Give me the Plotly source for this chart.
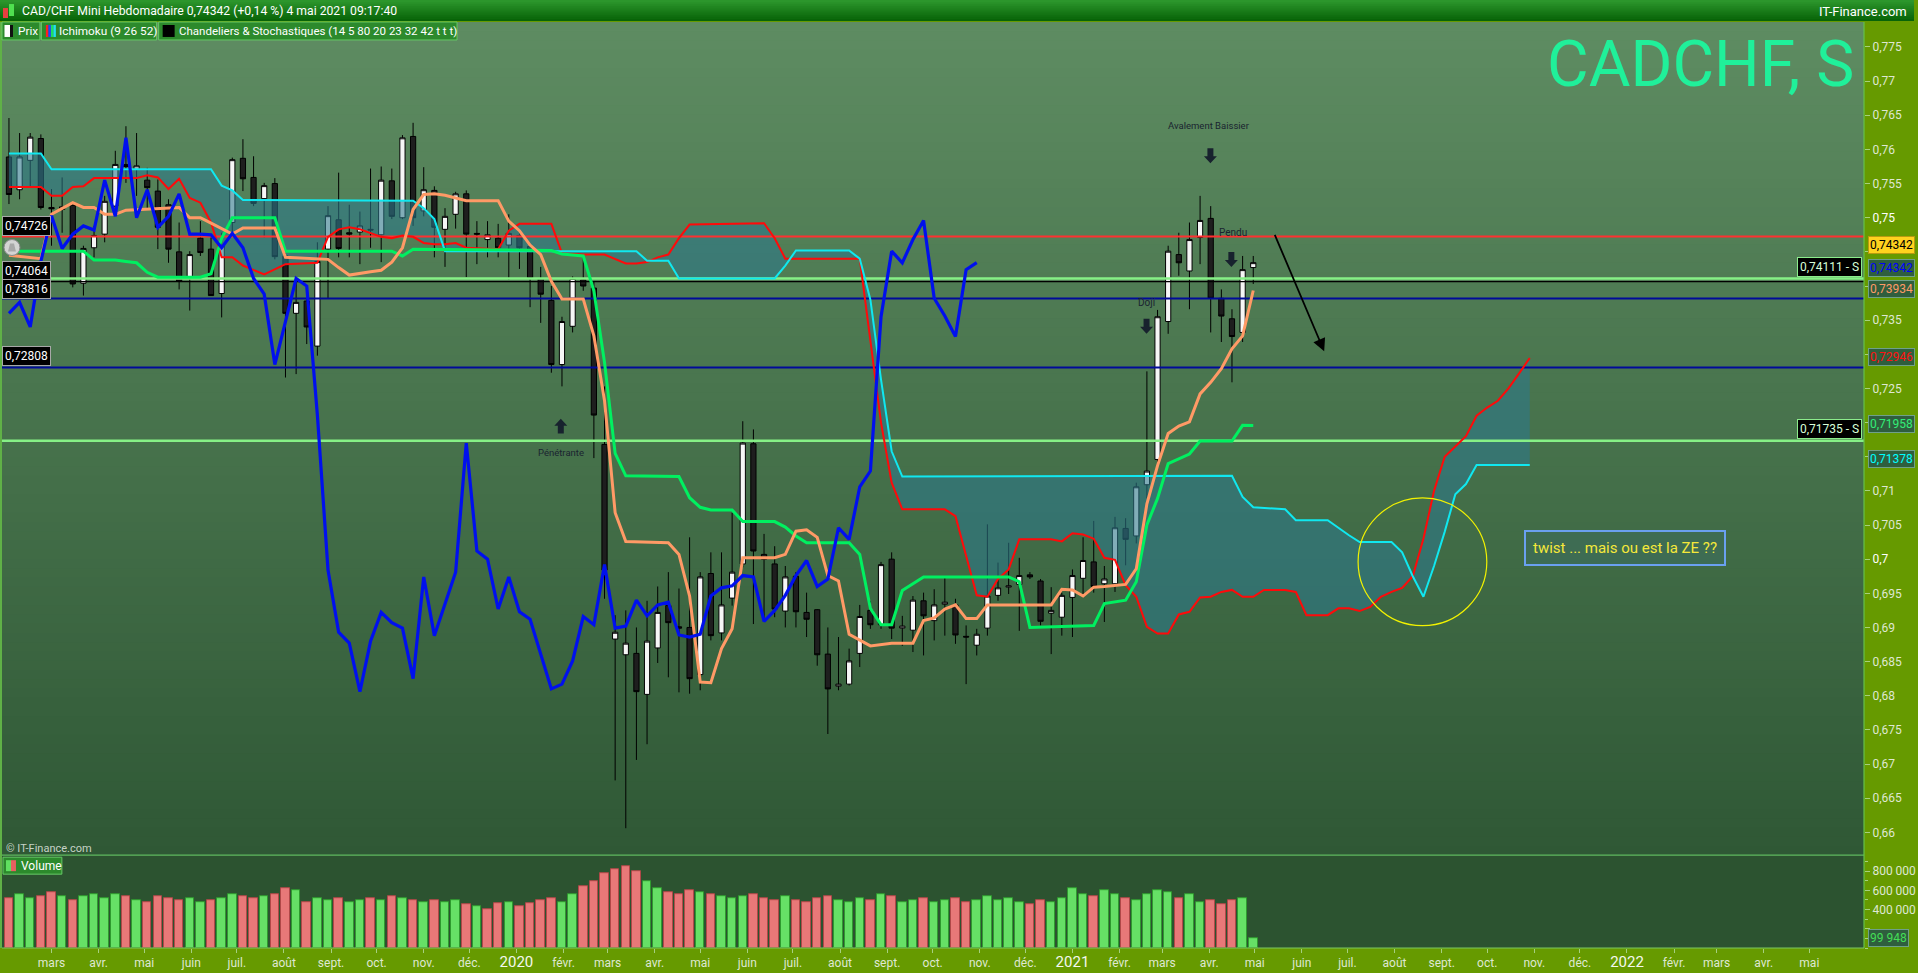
import plotly.graph_objects as go
import pandas as pd

# ------------------------------------------------------------------ DATA
start_date = "2019-02-01"   # first weekly candle

opens = [0.7589,0.7541,0.7584,0.7616,0.7515,0.7512,0.7518,0.7404,0.7456,0.7476,
         0.7517,0.7578,0.7571,0.7555,0.7539,0.7519,0.7450,0.7412,0.7470,0.7454,
         0.7389,0.7493,0.7587,0.7559,0.7528,0.7550,0.7444,0.7360,0.7378,0.7312,
         0.7454,0.7497,0.7478,0.7479,0.7483,0.7475,0.7554,0.7500,0.7619,0.7510,
         0.7540,0.7483,0.7505,0.7535,0.7477,0.7468,0.7470,0.7460,0.7474,0.7458,
         0.7411,0.7379,0.7285,0.7341,0.7409,0.7397,0.7168,0.6883,0.6860,0.6862,
         0.6802,0.6870,0.6932,0.6901,0.6900,0.6831,0.6979,0.6892,0.6943,0.6993,
         0.7169,0.7007,0.6993,0.6924,0.6975,0.6922,0.6926,0.6861,0.6814,0.6817,
         0.6862,0.6925,0.6904,0.7000,0.6899,0.6896,0.6939,0.6910,0.6934,0.6933,
         0.6887,0.6874,0.6899,0.6947,0.6959,0.6963,0.6977,0.6968,0.6921,0.6915,
         0.6944,0.6972,0.6996,0.6964,0.6964,0.7045,0.7034,0.7109,0.7146,0.7348,
         0.7446,0.7422,0.7471,0.7499,0.7382,0.7352,0.7332,0.7427]
highs = [0.7646,0.7624,0.7624,0.7622,0.7542,0.7559,0.7522,0.7459,0.7488,0.7532,
         0.7598,0.7634,0.7624,0.7573,0.7556,0.7527,0.7493,0.7451,0.7495,0.7476,
         0.7478,0.7588,0.7615,0.7590,0.7551,0.7558,0.7449,0.7410,0.7381,0.7464,
         0.7517,0.7566,0.7519,0.7509,0.7572,0.7575,0.7572,0.7621,0.7639,0.7574,
         0.7546,0.7514,0.7538,0.7540,0.7495,0.7495,0.7491,0.7505,0.7477,0.7460,
         0.7428,0.7400,0.7355,0.7414,0.7442,0.7407,0.7253,0.6918,0.6925,0.6900,
         0.6939,0.6960,0.6981,0.6957,0.7032,0.6981,0.7010,0.7010,0.7068,0.7202,
         0.7190,0.7037,0.7019,0.6990,0.6981,0.6951,0.6927,0.6900,0.6886,0.6869,
         0.6933,0.6939,0.6996,0.7010,0.6917,0.6946,0.6951,0.6956,0.6973,0.6942,
         0.6903,0.6898,0.7051,0.6995,0.7024,0.7002,0.6981,0.6971,0.6959,0.6951,
         0.6985,0.7032,0.7056,0.6990,0.7062,0.7060,0.7112,0.7275,0.7365,0.7459,
         0.7478,0.7493,0.7532,0.7517,0.7395,0.7366,0.7444,0.7444]
lows = [0.7520,0.7527,0.7546,0.7512,0.7459,0.7478,0.7398,0.7386,0.7442,0.7464,
        0.7512,0.7551,0.7532,0.7512,0.7454,0.7434,0.7395,0.7364,0.7444,0.7386,
        0.7354,0.7478,0.7539,0.7517,0.7471,0.7439,0.7266,0.7271,0.7315,0.7298,
        0.7381,0.7442,0.7442,0.7432,0.7456,0.7435,0.7498,0.7498,0.7488,0.7502,
        0.7442,0.7428,0.7484,0.7413,0.7432,0.7442,0.7442,0.7409,0.7425,0.7369,
        0.7346,0.7273,0.7253,0.7332,0.7393,0.7148,0.6942,0.6676,0.6606,0.6706,
        0.6729,0.6848,0.6827,0.6805,0.6803,0.6808,0.6881,0.6881,0.6932,0.6988,
        0.6905,0.6912,0.6915,0.6900,0.6900,0.6886,0.6844,0.6744,0.6808,0.6815,
        0.6842,0.6898,0.6898,0.6883,0.6873,0.6864,0.6859,0.6881,0.6888,0.6876,
        0.6817,0.6859,0.6888,0.6939,0.6949,0.6895,0.6971,0.6903,0.6861,0.6888,
        0.6886,0.6945,0.6951,0.6908,0.6952,0.6991,0.7023,0.7089,0.7137,0.7330,
        0.7415,0.7366,0.7432,0.7332,0.7318,0.7259,0.7318,0.7403]
closes = [0.7534,0.7589,0.7618,0.7515,0.7513,0.7516,0.7403,0.7455,0.7474,0.7524,
          0.7578,0.7575,0.7576,0.7544,0.7486,0.7454,0.7407,0.7446,0.7449,0.7386,
          0.7459,0.7585,0.7557,0.7521,0.7547,0.7443,0.7360,0.7376,0.7340,0.7436,
          0.7503,0.7455,0.7476,0.7488,0.7482,0.7555,0.7502,0.7617,0.7500,0.7541,
          0.7486,0.7502,0.7535,0.7476,0.7476,0.7475,0.7456,0.7477,0.7456,0.7411,
          0.7388,0.7285,0.7348,0.7411,0.7400,0.7211,0.6984,0.6893,0.6877,0.6806,
          0.6880,0.6922,0.6907,0.6899,0.6825,0.6974,0.6888,0.6933,0.6981,0.7170,
          0.7012,0.7000,0.6927,0.6974,0.6923,0.6912,0.6860,0.6810,0.6817,0.6851,
          0.6916,0.6904,0.6992,0.6899,0.6902,0.6940,0.6917,0.6933,0.6937,0.6889,
          0.6886,0.6890,0.6946,0.6958,0.6961,0.6976,0.6974,0.6909,0.6925,0.6947,
          0.6976,0.6998,0.6960,0.6971,0.7046,0.7029,0.7106,0.7129,0.7355,0.7451,
          0.7434,0.7468,0.7496,0.7382,0.7356,0.7326,0.7424,0.74342]
prev_close_before_start = 0.7560
volumes = [520000,560000,520000,540000,580000,540000,500000,540000,560000,520000,
           560000,540000,500000,480000,540000,520000,500000,520000,480000,500000,
           520000,560000,540000,520000,540000,560000,620000,600000,480000,520000,
           500000,520000,480000,500000,520000,500000,540000,520000,500000,480000,
           500000,480000,500000,460000,440000,400000,470000,480000,440000,470000,
           500000,520000,480000,560000,640000,700000,780000,820000,850000,800000,
           700000,620000,580000,560000,600000,580000,560000,540000,520000,540000,
           560000,520000,500000,540000,500000,480000,520000,540000,500000,480000,
           520000,500000,560000,540000,480000,500000,520000,480000,500000,520000,
           480000,500000,540000,500000,520000,480000,460000,500000,480000,520000,
           620000,560000,540000,600000,560000,520000,500000,560000,600000,580000,
           520000,560000,480000,500000,460000,500000,520000,99948]

# Ichimoku lines (week index from first candle, value)
tenkan_w = [0,3,4,6,7,8,9,10,11,16,17,18,19,21,22,25,26,28,30,31,32,34,35,36,37,38,39,40,41,43,46,47,48,49,50,51,52,54,55,56,57,58,62,63,64,65,66,67,68,69,72,73,74,75,76,77,78,79,81,83,85,86,87,88,89,90,91,92,98,99,100,101,102,103,105,106,107,108,109,110,111,112,113,114,115,116,117]
tenkan_v = [0.7445,0.7440,0.7505,0.7522,0.7515,0.7515,0.7505,0.7505,0.7511,0.7515,0.7500,0.7500,0.7492,0.7476,0.7485,0.7485,0.7442,0.7440,0.7439,0.7427,0.7416,0.7421,0.7423,0.7435,0.7456,0.7512,0.7534,0.7535,0.7533,0.7525,0.7525,0.7495,0.7481,0.7460,0.7446,0.7407,0.7381,0.7381,0.7327,0.7232,0.7068,0.7026,0.7024,0.7007,0.6946,0.6820,0.6819,0.6869,0.6898,0.7002,0.7002,0.7007,0.7041,0.7043,0.7032,0.6976,0.6968,0.6890,0.6873,0.6877,0.6877,0.6910,0.6914,0.6927,0.6933,0.6913,0.6913,0.6933,0.6933,0.6956,0.6955,0.6946,0.6959,0.6960,0.6963,0.6986,0.7081,0.7137,0.7184,0.7195,0.7201,0.7242,0.7259,0.7279,0.7308,0.7327,0.73934]
kijun_w = [0,7,8,10,11,12,13,14,18,19,20,21,25,26,36,37,38,51,52,54,55,56,57,58,63,64,65,66,68,69,72,73,74,75,79,80,81,82,83,84,86,94,95,96,102,103,105,106,107,108,109,111,112,115,116,117]
kijun_v = [0.7451,0.7451,0.7438,0.7438,0.7436,0.7434,0.7420,0.7413,0.7413,0.7418,0.7470,0.7500,0.7500,0.7451,0.7451,0.7444,0.7454,0.7452,0.7447,0.7444,0.7393,0.7288,0.7155,0.7122,0.7121,0.7090,0.7076,0.7072,0.7072,0.7055,0.7055,0.7047,0.7034,0.7024,0.7024,0.7007,0.6928,0.6904,0.6904,0.6954,0.6974,0.6974,0.6967,0.6900,0.6903,0.6935,0.6940,0.6967,0.7050,0.7089,0.7140,0.7154,0.7173,0.7173,0.7196,0.71958]
spanA_w = [0,3,4,5,6,7,8,12,13,14,15,16,17,18,19,20,21,22,24,25,26,29,30,31,32,33,35,36,37,38,39,40,41,42,43,46,47,48,51,52,54,56,57,58,59,60,61,62,63,64,71,72,73,80,81,82,83,84,88,89,90,91,92,93,94,95,98,99,100,101,102,103,104,105,106,107,108,109,110,111,112,113,114,115,116,117,118,120,121,122,124,125,126,127,128,129,130,131,132,133,134,135,136,137,138,139,140,141,142,143]
spanA_v = [0.7545,0.7545,0.7532,0.7532,0.7545,0.7546,0.7558,0.7558,0.7562,0.7559,0.7542,0.7557,0.7529,0.7522,0.7493,0.7442,0.7442,0.7430,0.7417,0.7425,0.7432,0.7434,0.7472,0.7483,0.7486,0.7483,0.7472,0.7470,0.7474,0.7472,0.7463,0.7461,0.7461,0.7463,0.7456,0.7454,0.7481,0.7491,0.7491,0.7448,0.7446,0.7446,0.7440,0.7433,0.7433,0.7435,0.7442,0.7446,0.7470,0.7490,0.7492,0.7470,0.7440,0.7440,0.7320,0.7200,0.7112,0.7073,0.7073,0.7063,0.7005,0.6947,0.6945,0.6971,0.6985,0.7029,0.7029,0.7026,0.7038,0.7036,0.7030,0.7002,0.6999,0.6962,0.6945,0.6901,0.6891,0.6891,0.6919,0.6923,0.6944,0.6945,0.6952,0.6955,0.6945,0.6945,0.6955,0.6955,0.6952,0.6918,0.6918,0.6928,0.6928,0.6924,0.6930,0.6945,0.6952,0.6958,0.6975,0.7030,0.7100,0.7150,0.7165,0.7180,0.7210,0.7222,0.7232,0.7250,0.7272,0.72946]
spanB_w = [0,3,4,19,20,21,22,38,39,40,41,59,60,62,63,72,73,74,79,80,81,82,83,84,115,116,117,120,121,124,126,127,130,131,132,133,134,135,136,137,138,143]
spanB_v = [0.7594,0.7594,0.7571,0.7571,0.7547,0.7540,0.7526,0.7525,0.7514,0.7498,0.7451,0.7451,0.7437,0.7437,0.7411,0.7411,0.7430,0.7452,0.7452,0.7440,0.7380,0.7263,0.7158,0.7121,0.7122,0.7091,0.7076,0.7073,0.7057,0.7057,0.7035,0.7025,0.7025,0.7010,0.6975,0.6945,0.6990,0.7040,0.7095,0.7110,0.71378,0.71378]
chikou_shift = 26

level_red = 0.74726
levels_black_left = [0.74064]
levels_blue = [0.73816, 0.72808]
levels_support = [0.74111, 0.71735]
left_labels = ["0,74726", "0,74064", "0,73816", "0,72808"]
support_labels = ["0,74111 - S", "0,71735 - S"]
right_labels = ["0,74342", "0,74342", "0,73934", "0,72946", "0,71958", "0,71378"]
volume_label = "99 948"

price_ticks = [round(0.66 + 0.005 * k, 3) for k in range(24)]
price_ticktext = [("%.3f" % v).rstrip("0").replace(".", ",") for v in price_ticks]
hidden_price_labels = ["0,745", "0,74", "0,73", "0,72", "0,715"]   # covered by value boxes
vol_ticks = [200000, 400000, 600000, 800000]
vol_ticktext = ["", "400 000", "600 000", "800 000"]   # 200 000 is covered by the 99 948 box
month_names = ["", "févr.", "mars", "avr.", "mai", "juin", "juil.", "août",
               "sept.", "oct.", "nov.", "déc."]

# ------------------------------------------------------------------ LAYOUT HELPERS
FW, FH = 1918, 973
L, T, R, B = 2, 22, 50, 23
PW, PH = FW - L - R, FH - T - B
VOL_TOP = 857


def PX(px):
    return (px - L) / PW


def PY(py):
    return (T + PH - py) / PH


def mix(c0, c1, t):
    return "rgb(%d,%d,%d)" % tuple(round(a + (b - a) * t) for a, b in zip(c0, c1))


start = pd.Timestamp(start_date)
n = len(closes)
dates = [start + pd.Timedelta(days=7 * i) for i in range(n)]


def wdates(ws):
    return [start + pd.Timedelta(days=7 * w) for w in ws]


fig = go.Figure()

# Kumo (cloud) polygon
ax_ = wdates(spanA_w)
bx_ = wdates(spanB_w)
fig.add_trace(go.Scatter(x=ax_ + bx_[::-1], y=spanA_v + spanB_v[::-1], fill="toself",
                         fillcolor="rgba(45,120,140,0.58)", line=dict(width=0),
                         mode="lines", hoverinfo="skip"))

# Candles
fig.add_trace(go.Candlestick(
    x=dates, open=opens, high=highs, low=lows, close=closes,
    increasing=dict(fillcolor="#f6f6f6", line=dict(color="#000000", width=1)),
    decreasing=dict(fillcolor="#1e1e1e", line=dict(color="#000000", width=1)),
    whiskerwidth=0, hoverinfo="skip"))

# Volume bars: coloured by close versus previous close
prev = [prev_close_before_start] + closes[:-1]
up = [c >= p for c, p in zip(closes, prev)]
vcol = ["#66e066" if u else "#e87878" for u in up]
vline = ["#2f9a2f" if u else "#b04848" for u in up]
fig.add_trace(go.Bar(x=dates, y=volumes, marker=dict(color=vcol, line=dict(color=vline, width=1)),
                     width=7 * 86400000 * 0.8, yaxis="y2", hoverinfo="skip"))

x_lo, x_hi = pd.Timestamp("2019-01-27 10:00"), pd.Timestamp("2022-06-06")


def hline(v, color, width):
    fig.add_trace(go.Scatter(x=[x_lo, x_hi], y=[v, v], mode="lines",
                             line=dict(color=color, width=width), hoverinfo="skip"))


hline(level_red, "#ff3030", 2)
for v in levels_support:
    hline(v, "#86f086", 2.5)
for v in levels_black_left:
    hline(v, "#000000", 1.2)
for v in levels_blue:
    hline(v, "#000a9a", 2)

# Ichimoku lines
fig.add_trace(go.Scatter(x=ax_, y=spanA_v, mode="lines", line=dict(color="#ff0a0a", width=2), hoverinfo="skip"))
fig.add_trace(go.Scatter(x=bx_, y=spanB_v, mode="lines", line=dict(color="#10e8f0", width=2), hoverinfo="skip"))
fig.add_trace(go.Scatter(x=wdates(kijun_w), y=kijun_v, mode="lines", line=dict(color="#00f060", width=3), hoverinfo="skip"))
fig.add_trace(go.Scatter(x=wdates(tenkan_w), y=tenkan_v, mode="lines", line=dict(color="#ff9a66", width=3), hoverinfo="skip"))
fig.add_trace(go.Scatter(x=dates[:n - chikou_shift], y=closes[chikou_shift:], mode="lines",
                         line=dict(color="#0010ee", width=3.2), hoverinfo="skip"))

shapes = []
# background gradient of the price panel (each band runs to the panel bottom: no seams)
NS = 90
top_c, bot_c = (94, 140, 98), (47, 88, 53)
for k in range(NS):
    y0 = T + (VOL_TOP - T) * k / NS
    shapes.append(dict(type="rect", xref="paper", yref="paper", x0=0, x1=1, y0=PY(VOL_TOP), y1=PY(y0),
                       fillcolor=mix(top_c, bot_c, k / (NS - 1)), line=dict(width=0), layer="below"))
shapes.append(dict(type="rect", xref="paper", yref="paper", x0=0, x1=1, y0=0, y1=PY(VOL_TOP),
                   fillcolor="rgb(44,83,48)", line=dict(width=0), layer="below"))
# title bar
for k in range(10):
    y0 = 21 * k / 10
    shapes.append(dict(type="rect", xref="paper", yref="paper", x0=PX(0), x1=PX(FW), y0=PY(21), y1=PY(y0),
                       fillcolor=mix((44, 150, 44), (8, 100, 8), k / 9), line=dict(width=0), layer="above"))
# separators / borders
shapes.append(dict(type="line", xref="paper", yref="paper", x0=0, x1=1, y0=PY(VOL_TOP), y1=PY(VOL_TOP),
                   line=dict(color="#5fb85f", width=1.2), layer="above"))
shapes.append(dict(type="line", xref="paper", yref="paper", x0=1, x1=1, y0=0, y1=1,
                   line=dict(color="#66c24a", width=1.2), layer="above"))
shapes.append(dict(type="line", xref="paper", yref="paper", x0=PX(1), x1=PX(1), y0=0, y1=1,
                   line=dict(color="#5fb85f", width=1.5), layer="above"))
shapes.append(dict(type="line", xref="paper", yref="paper", x0=0, x1=1, y0=0, y1=0,
                   line=dict(color="#7cc860", width=1), layer="above"))

# legend row boxes
legend_boxes = [(2, 40), (41.5, 157), (159, 458)]
for a, b in legend_boxes:
    shapes.append(dict(type="rect", xref="paper", yref="paper", x0=PX(a), x1=PX(b), y0=PY(40), y1=PY(22),
                       fillcolor="#2c8a2c", line=dict(color="#66c866", width=1), layer="above"))
icon_rects = [(4.5, 10, "#ffffff"), (10, 13, "#111111"),
              (46, 48.5, "#ff2020"), (48.5, 51, "#2040ff"), (51, 53.5, "#20e060"), (53.5, 56, "#20e0f0"),
              (163, 175, "#000000")]
for a, b, c in icon_rects:
    shapes.append(dict(type="rect", xref="paper", yref="paper", x0=PX(a), x1=PX(b), y0=PY(37), y1=PY(25),
                       fillcolor=c, line=dict(width=0), layer="above"))
# title icon
shapes.append(dict(type="rect", xref="paper", yref="paper", x0=PX(3), x1=PX(8), y0=PY(18), y1=PY(8),
                   fillcolor="#e84040", line=dict(width=0), layer="above"))
shapes.append(dict(type="rect", xref="paper", yref="paper", x0=PX(9), x1=PX(14), y0=PY(16), y1=PY(4),
                   fillcolor="#50e050", line=dict(width=0), layer="above"))
# volume legend box
shapes.append(dict(type="rect", xref="paper", yref="paper", x0=PX(3), x1=PX(62), y0=PY(876), y1=PY(859),
                   fillcolor="#2c8a2c", line=dict(color="#66c866", width=1), layer="above"))
shapes.append(dict(type="rect", xref="paper", yref="paper", x0=PX(6), x1=PX(11), y0=PY(873), y1=PY(862),
                   fillcolor="#60e060", line=dict(width=0), layer="above"))
shapes.append(dict(type="rect", xref="paper", yref="paper", x0=PX(11), x1=PX(16), y0=PY(873), y1=PY(862),
                   fillcolor="#e86060", line=dict(width=0), layer="above"))

# bells
for cy in (248, 290):
    shapes.append(dict(type="circle", xref="paper", yref="paper", x0=PX(4), x1=PX(20), y0=PY(cy + 8), y1=PY(cy - 8),
                       fillcolor="#d4d4d4", line=dict(color="#8a8a8a", width=1), layer="above"))
    shapes.append(dict(type="path", xref="paper", yref="paper",
                       path="M %f,%f L %f,%f L %f,%f L %f,%f Z" % (PX(8), PY(cy + 4), PX(16), PY(cy + 4),
                                                                    PX(14), PY(cy - 4), PX(10), PY(cy - 4)),
                       fillcolor="#a8a8a8", line=dict(width=0), layer="above"))


def block_arrow(cx, cy, down=True, w=13, h=15, sw=6, hh=7):
    s = 1 if down else -1
    ytop = cy - s * h / 2
    ymid = cy - s * h / 2 + s * (h - hh)
    ytip = cy + s * h / 2
    pts = [(cx - sw / 2, ytop), (cx + sw / 2, ytop), (cx + sw / 2, ymid), (cx + w / 2, ymid),
           (cx, ytip), (cx - w / 2, ymid), (cx - sw / 2, ymid)]
    p = "M " + " L ".join("%f,%f" % (PX(a), PY(b)) for a, b in pts) + " Z"
    return dict(type="path", xref="paper", yref="paper", path=p, fillcolor="#18222e",
                line=dict(width=0), layer="above")


shapes.append(block_arrow(1213, 156))
shapes.append(block_arrow(1149, 327))
shapes.append(block_arrow(1234, 260))
shapes.append(block_arrow(562, 427, down=False))

# yellow circle
shapes.append(dict(type="circle", xref="paper", yref="paper", x0=PX(1361), x1=PX(1490), y0=PY(627), y1=PY(499),
                   line=dict(color="#f2f200", width=1.2), fillcolor="rgba(0,0,0,0)", layer="above"))

annotations = []
UI = "Roboto, Noto Sans, sans-serif"


def txt(x, y, s, size=12, color="#ffffff", xa="left", ya="middle", **kw):
    d = dict(x=PX(x), y=PY(y), xref="paper", yref="paper", text=s, showarrow=False,
             xanchor=xa, yanchor=ya, font=dict(size=size, color=color, family=kw.pop("family", UI)))
    d.update(kw)
    annotations.append(d)


txt(20, 11, "CAD/CHF Mini Hebdomadaire 0,74342 (+0,14 %) 4 mai 2021 09:17:40", size=12.2)
txt(1913, 11, "IT-Finance.com", size=13, xa="right")
txt(16, 31, "Prix", size=11.8)
txt(57, 31, "Ichimoku (9 26 52)", size=11.8)
txt(177, 31, "Chandeliers &amp; Stochastiques (14 5 80 20 23 32 42 t t t)", size=11.5)
txt(1860, 65, "CADCHF, S", size=64, color="#20f09a", xa="right")
txt(4, 850, "© IT-Finance.com", size=11, color="#c6d2c6")
txt(19, 867.5, "Volume", size=12)

# chart annotations
txt(1212, 126, "Avalement Baissier", size=9.5, color="#1a2430", xa="center")
txt(1236, 233, "Pendu", size=10, color="#1a2430", xa="center")
txt(1149, 303, "Doji", size=10, color="#1a2430", xa="center")
txt(562, 453, "Pénétrante", size=9.5, color="#1a2430", xa="center")
annotations.append(dict(x=PX(1628), y=PY(549), xref="paper", yref="paper", xanchor="center", yanchor="middle",
                        text="twist ... mais ou est la ZE ??", showarrow=False,
                        font=dict(size=15, color="#f5e83a", family=UI),
                        bgcolor="rgba(60,110,95,0.55)", bordercolor="#6aa0f0", borderwidth=2, borderpad=7))
annotations.append(dict(x=PX(1327), y=PY(352), xref="paper", yref="paper", text="", showarrow=True,
                        ax=-50, ay=-118, arrowhead=2, arrowsize=1.4, arrowwidth=1.8, arrowcolor="#000000"))

# left level boxes
left_y = [226, 272, 289.5, 357]
for s, y in zip(left_labels, left_y):
    annotations.append(dict(x=PX(2), y=PY(y), xref="paper", yref="paper", text=s, showarrow=False,
                            xanchor="left", yanchor="middle", font=dict(size=12, color="#ffffff", family=UI),
                            bgcolor="#000000", bordercolor="#a8a8a8", borderwidth=1, borderpad=2))
# support boxes on right
sup_y = [267.5, 430]
for s, y in zip(support_labels, sup_y):
    annotations.append(dict(x=PX(1866), y=PY(y), xref="paper", yref="paper", text=s, showarrow=False,
                            xanchor="right", yanchor="middle", font=dict(size=12, color="#d8ffd8", family=UI),
                            bgcolor="#000000", bordercolor="#8cec8c", borderwidth=1, borderpad=2))
# axis value boxes
rb = [(245, "#000000", "#ffd21e", "#b89a10"),
      (269, "#0000ff", "#2f5e3e", "#6fa08a"),
      (289.5, "#ff9a66", "#2f5e3e", "#6fa08a"),
      (357.5, "#ff1010", "#2f5e3e", "#6fa08a"),
      (425, "#33ee77", "#2f5e3e", "#6fa08a"),
      (459.5, "#00ffff", "#2f5e3e", "#6fa08a")]
for s, (y, fc, bg, bc) in zip(right_labels, rb):
    annotations.append(dict(x=PX(1872), y=PY(y), xref="paper", yref="paper", text=s, showarrow=False,
                            xanchor="left", yanchor="middle", font=dict(size=12, color=fc, family=UI),
                            bgcolor=bg, bordercolor=bc, borderwidth=1, borderpad=1))
annotations.append(dict(x=PX(1872), y=PY(940), xref="paper", yref="paper", text=volume_label, showarrow=False,
                        xanchor="left", yanchor="middle", font=dict(size=12, color="#44dd55", family=UI),
                        bgcolor="#2f5e3e", bordercolor="#6fa08a", borderwidth=1, borderpad=1))

# x ticks
month_ticks = list(pd.date_range("2019-03-01", "2022-05-01", freq="MS"))
xt_text = []
for d in month_ticks:
    if d.month == 1:
        xt_text.append("<span style='font-size:15px;color:#f4f8ee'>%d</span>" % d.year)
    else:
        xt_text.append(month_names[d.month - 1])

yt_text = []
for v, s in zip(price_ticks, price_ticktext):
    if s in hidden_price_labels:
        yt_text.append("")
    elif s in ("0,75", "0,7"):
        yt_text.append("<span style='color:#ffffff'>%s</span>" % s)
    else:
        yt_text.append(s)

fig.update_layout(
    width=FW, height=FH,
    margin=dict(l=L, r=R, t=T, b=B, pad=0),
    paper_bgcolor="#669a00", plot_bgcolor="rgba(0,0,0,0)",
    showlegend=False, hovermode=False,
    font=dict(family=UI, color="#dfe8d2", size=12),
    xaxis=dict(type="date", range=[x_lo, x_hi], anchor="y2", rangeslider=dict(visible=False),
               tickvals=month_ticks, ticktext=xt_text, showgrid=False, zeroline=False,
               ticks="outside", ticklen=4, tickcolor="#a6d080", tickfont=dict(size=12, color="#dfe8d2"),
               showline=False),
    yaxis=dict(domain=[PY(VOL_TOP), 1], range=[0.65665, 0.77866], side="right", anchor="x",
               tickvals=price_ticks, ticktext=yt_text, showgrid=False, zeroline=False,
               ticks="outside", ticklen=5, tickcolor="#a6d080", tickfont=dict(size=12, color="#dfe8d2")),
    yaxis2=dict(domain=[0, PY(VOL_TOP)], range=[0, 966000], side="right", anchor="x",
                tickvals=vol_ticks, ticktext=vol_ticktext, showgrid=False, zeroline=False,
                ticks="outside", ticklen=5, tickcolor="#a6d080", tickfont=dict(size=12, color="#dfe8d2"),
                minor=dict(dtick=100000, ticks="outside", ticklen=3, tickcolor="#a6d080")),
    shapes=shapes, annotations=annotations,
    bargap=0,
)

fig.write_html("out.html", config={"displayModeBar": False},
               post_script="document.body.style.margin='0';document.body.style.overflow='hidden';")
